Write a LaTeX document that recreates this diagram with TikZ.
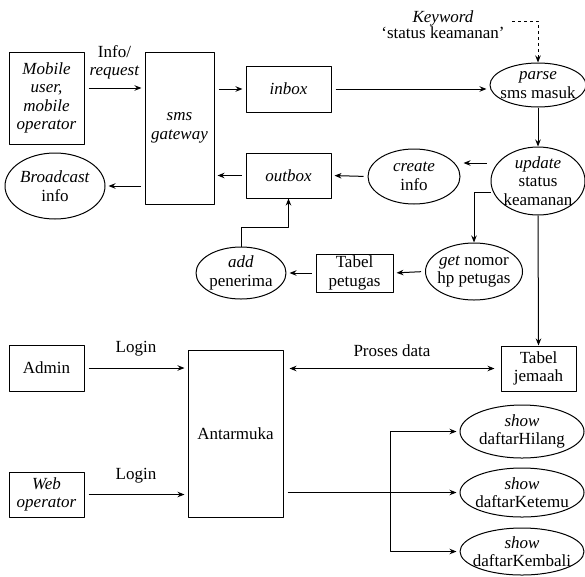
\documentclass[tikz,border=0pt]{standalone}
\usepackage{fontspec}
\setmainfont{Liberation Serif}
\usetikzlibrary{shapes.geometric,arrows.meta}
\tikzset{kotak/.style={draw, align=center, inner sep=0pt},
	lonjong/.style={draw, ellipse, align=center, inner xsep=-14pt, inner ysep=-3pt},
	alur/.style={->, shorten <=4pt, shorten >=3pt}}
\begin{document}
\begin{tikzpicture}[x=1pt, y=-1pt, >={Stealth[length=7pt, width=5.5pt]}, line width=1pt, line join=round, font=\fontsize{17}{18.5}\selectfont]
			\useasboundingbox (0,0) rectangle (585,576);
			\node[kotak, minimum width=75pt, minimum height=92pt] (mob) at (46.5,98) {\textit{Mobile}\\\textit{user,}\\\textit{mobile}\\\textit{operator}};
			\node[kotak, minimum width=69pt, minimum height=152pt] (sms) at (179.5,128) {\textit{sms}\\\textit{gateway}};
			\node[kotak, minimum width=85pt, minimum height=46pt] (inbox) at (288.5,89) {\textit{inbox}};
			\node[kotak, minimum width=85pt, minimum height=45pt] (outbox) at (288.5,175.5) {\textit{outbox}};
			\node[lonjong, minimum width=100pt, minimum height=66pt] (brc) at (55,186) {\textit{Broadcast}\\info};
			\node[lonjong, minimum width=96pt, minimum height=44pt] (parse) at (538,85) {\textit{parse}\\sms masuk};
			\node[lonjong, minimum width=94pt, minimum height=68pt] (upd) at (538,181) {\textit{update}\\status\\keamanan};
			\node[lonjong, minimum width=92pt, minimum height=55pt] (create) at (414,176.5) {\textit{create}\\info};
			\node[lonjong, minimum width=97pt, minimum height=57pt] (get) at (474,271.5) {\textit{get} nomor\\hp petugas};
			\node[kotak, minimum width=77pt, minimum height=38pt] (tabp) at (354.5,273) {Tabel\\petugas};
			\node[lonjong, minimum width=90pt, minimum height=52pt] (add) at (241,273) {\textit{add}\\penerima};
			\node[align=center, font=\fontsize{17}{16}\selectfont] (kw) at (443,25) {\textit{Keyword}\\`status keamanan'};
			\coordinate (kwe) at (512,21);
			\node[kotak, minimum width=75pt, minimum height=45pt] (jem) at (538.5,368.5) {Tabel\\jemaah};
			\node[kotak, minimum width=75pt, minimum height=46pt] (admin) at (46.5,368) {Admin};
			\node[kotak, minimum width=75pt, minimum height=45pt] (web) at (46.5,494.5) {\textit{Web}\\\textit{operator}};
			\node[kotak, minimum width=95pt, minimum height=167pt] (antar) at (235.5,433.5) {Antarmuka};
			\node[lonjong, minimum width=124pt, minimum height=53pt] (hil) at (522,431.5) {\textit{show}\\daftarHilang};
			\node[lonjong, minimum width=124pt, minimum height=49pt] (ket) at (522,492.5) {\textit{show}\\daftarKetemu};
			\node[lonjong, minimum width=124pt, minimum height=47pt] (kem) at (522,551.5) {\textit{show}\\daftarKembali};
			\coordinate (br) at (390,492.5);
			\draw[alur] ([yshift=10pt]mob.east) -- ([yshift=10pt]mob.east -| sms.west) node[midway, above=5pt, align=center]{Info/\\\textit{request}};
			\draw[alur] (sms.east |- inbox.west) -- (inbox.west);
			\draw[alur] (inbox.east) -- (inbox.east -| parse.west);
			\draw[dashed, ->] (kwe) -| (parse.north);
			\draw[->] (parse.south) -- (upd.north);
			\draw[alur] ([yshift=18pt]upd.west) -- ([yshift=18pt]upd.west -| create.east);
			\draw[alur] (create.west) -- (outbox.east);
			\draw[alur] (outbox.west) -- (outbox.west -| sms.east);
			\draw[alur] (sms.west |- brc.east) -- (brc.east);
			\draw[->] ([yshift=-11pt]upd.west) -| (get.north);
			\draw[alur] (get.west) -- (tabp.east);
			\draw[alur] (tabp.west) -- (add.east);
			\draw[->] (add.north) -- ++(0,-19) -| (outbox.south);
			\draw[->] (upd.south) -- (jem.north);
			\draw[alur] (admin.east) -- (admin.east -| antar.west) node[midway, above=8pt]{Login};
			\draw[alur] (web.east) -- (web.east -| antar.west) node[midway, above=8pt]{Login};
			\draw[<->, shorten <=6pt, shorten >=6pt] (antar.east |- jem.west) -- (jem.west) node[midway, above=8pt]{Proses data};
			\draw[alur] (antar.east |- ket.west) -- (ket.west);
			\draw[->, shorten >=3pt] (br) |- (hil.west);
			\draw[->, shorten >=3pt] (br) |- (kem.west);
	\end{tikzpicture}
\end{document}
